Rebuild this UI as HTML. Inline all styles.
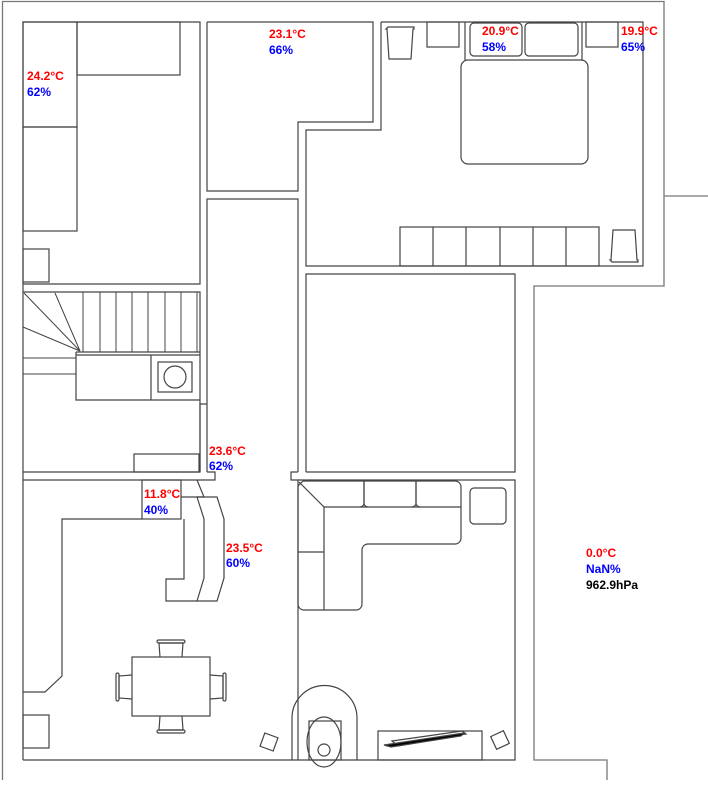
<!DOCTYPE html>
<html><head><meta charset="utf-8"><style>
html,body{margin:0;padding:0;background:#fff;width:708px;height:792px;overflow:hidden}
svg{display:block}
text{font-family:"Liberation Sans",Arial,sans-serif;font-size:12px;font-weight:bold}
.r{fill:#ff0000}.b{fill:#0000ff}.k{fill:#000}
</style></head><body>
<svg width="708" height="792" viewBox="0 0 708 792" xmlns="http://www.w3.org/2000/svg">
<g fill="none" stroke="#777" stroke-width="1.3">
<polyline points="2.5,780 2.5,1.5 664,1.5 664,286 534,286 534,760 607,760 607,780"/>
<line x1="664" y1="196" x2="708" y2="196"/>
</g>
<g fill="none" stroke="#444" stroke-width="1.2">
<!-- room 1 -->
<polyline points="23,760 23,22 200,22 200,284 23,284"/>
<polyline points="23,292 200,292 200,472 23,472"/>
<rect x="23" y="22" width="54" height="105"/>
<rect x="77" y="22" width="103" height="53"/>
<rect x="23" y="127" width="54" height="104"/>
<rect x="23" y="249" width="26" height="33"/>
<!-- stairs -->
<line x1="76" y1="352" x2="200" y2="352"/>
<line x1="76" y1="355" x2="200" y2="355"/>
<g stroke-width="1">
<line x1="83" y1="292" x2="83" y2="352"/><line x1="100" y1="292" x2="100" y2="352"/>
<line x1="116" y1="292" x2="116" y2="352"/><line x1="132" y1="292" x2="132" y2="352"/>
<line x1="148" y1="292" x2="148" y2="352"/><line x1="165" y1="292" x2="165" y2="352"/>
<line x1="181" y1="292" x2="181" y2="352"/><line x1="197" y1="292" x2="197" y2="352"/>
<line x1="80" y1="351" x2="24" y2="293"/><line x1="80" y1="351" x2="55" y2="293"/>
<line x1="80" y1="351" x2="23" y2="327"/>
<line x1="23" y1="358" x2="76" y2="358"/><line x1="23" y1="374" x2="76" y2="374"/>
</g>
<polyline points="76,352 76,400 200,400"/>
<line x1="151" y1="355" x2="151" y2="400"/>
<rect x="158" y="362" width="34" height="30"/>
<circle cx="175" cy="377" r="11"/>
<rect x="134" y="454" width="65" height="18"/>
<!-- corridor / room2 -->
<polyline points="207,472 207,199 298,199 298,472"/>
<polyline points="207,22 207,191 298,191 298,122 373,122 373,22 207,22"/>
<polyline points="381,22 643,22 643,266 306,266 306,130 381,130 381,22"/>
<polyline points="306,472 306,274 515,274 515,472 306,472"/>
<polyline points="200,472 200,404 207,404"/>
<polyline points="23,480 215,480 215,472 207,472"/>
<polyline points="298,472 291,472 291,480 298,480 298,760"/>
<polyline points="298,480 515,480 515,760 23,760"/>
<!-- bedroom -->
<path d="M388,27 h26 v2 h-1 l-2,30 h-22 l-2,-30 h-1 z"/>
<rect x="427" y="22" width="32" height="25"/>
<rect x="586" y="22" width="32" height="25"/>
<line x1="465" y1="22" x2="465" y2="60"/><line x1="582" y1="22" x2="582" y2="60"/>
<rect x="470" y="23" width="52" height="33" rx="4"/>
<rect x="525" y="23" width="53" height="33" rx="4"/>
<rect x="461" y="60" width="127" height="104" rx="7"/>
<rect x="400" y="227" width="199" height="39"/>
<line x1="433" y1="227" x2="433" y2="266"/><line x1="466" y1="227" x2="466" y2="266"/>
<line x1="500" y1="227" x2="500" y2="266"/><line x1="533" y1="227" x2="533" y2="266"/>
<line x1="566" y1="227" x2="566" y2="266"/>
<path d="M612,262 h26 v-2 h-1 l-2,-30 h-22 l-2,30 h-1 z"/>
<!-- kitchen -->
<polyline points="23,692 45,692 62,676 62,519 142,519"/>
<rect x="142" y="480" width="39" height="39"/>
<polyline points="184,519 184,579 166,579 166,601 197,601"/>
<polyline points="181,497 204,497 197,480"/>
<path d="M197,497 h20 l7,22 v59 l-7,23 h-20 l7,-23 v-59 z"/>
<!-- dining -->
<rect x="132" y="657" width="78" height="59"/>
<path d="M160,657 l-1,-14 h24 l-1,14"/><rect x="157" y="640" width="28" height="3" rx="1.5"/>
<path d="M160,716 l-1,14 h24 l-1,-14"/><rect x="157" y="730" width="28" height="3" rx="1.5"/>
<path d="M132,675 l-13,1 v22 l13,1"/><rect x="116" y="673" width="3" height="28" rx="1.5"/>
<path d="M210,675 l13,1 v22 l-13,1"/><rect x="223" y="673" width="3" height="28" rx="1.5"/>
<rect x="23" y="715" width="26" height="33"/>
<rect x="262" y="735" width="14" height="14" transform="rotate(20 269 742)"/>
<!-- fireplace -->
<path d="M292,760 V718 A32.5,32.5 0 0 1 357,718 V760"/>
<ellipse cx="324" cy="742" rx="17" ry="25"/>
<rect x="309" y="721" width="32" height="39"/>
<circle cx="324" cy="750" r="6"/>
<!-- tv -->
<rect x="378" y="731" width="104" height="29"/>
<path d="M392,741 l70,-10 l4,3 l-68,12 z"/>
<path d="M384,745 l80,-12 l-3,3 l-70,11 z" fill="#000"/>
<rect x="493" y="733" width="14" height="14" transform="rotate(-25 500 740)"/>
<!-- sofa -->
<path d="M303,481 H455 a6,6 0 0 1 6,6 V538 a6,6 0 0 1 -6,6 H368 a6,6 0 0 0 -6,6 V604 a6,6 0 0 1 -6,6 H304 a6,6 0 0 1 -6,-6 V486 z"/>
<line x1="299" y1="482" x2="324" y2="507"/>
<path d="M324,610 V507 H461"/>
<path d="M364,481 v22 a4,4 0 0 1 -4,4"/><path d="M364,481 v22 a4,4 0 0 0 4,4"/>
<path d="M416,481 v22 a4,4 0 0 1 -4,4"/><path d="M416,481 v22 a4,4 0 0 0 4,4"/>
<line x1="298" y1="552" x2="324" y2="552"/>
<rect x="470" y="488" width="36" height="36" rx="4"/>
</g>
<text x="27" y="80" class="r">24.2°C</text><text x="27" y="96" class="b">62%</text>
<text x="269" y="38" class="r">23.1°C</text><text x="269" y="54" class="b">66%</text>
<text x="482" y="35" class="r">20.9°C</text><text x="482" y="51" class="b">58%</text>
<text x="621" y="35" class="r">19.9°C</text><text x="621" y="51" class="b">65%</text>
<text x="209" y="455" class="r">23.6°C</text><text x="209" y="470" class="b">62%</text>
<text x="144" y="498" class="r">11.8°C</text><text x="144" y="514" class="b">40%</text>
<text x="226" y="552" class="r">23.5°C</text><text x="226" y="567" class="b">60%</text>
<text x="586" y="557" class="r">0.0°C</text><text x="586" y="573" class="b">NaN%</text>
<text x="586" y="589" class="k">962.9hPa</text>
</svg>
</body></html>
